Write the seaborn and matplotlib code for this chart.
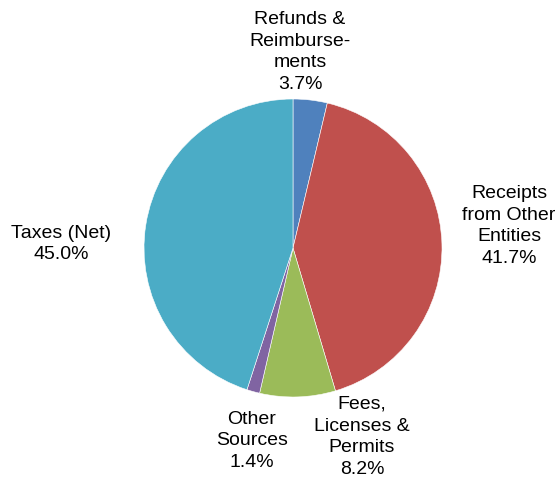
import matplotlib
matplotlib.use("Agg")
import matplotlib.pyplot as plt
import seaborn as sns

# Revenue sources, share of total (%)
categories = [
    "Refunds &\nReimburse-\nments",
    "Receipts\nfrom Other\nEntities",
    "Fees,\nLicenses &\nPermits",
    "Other\nSources",
    "Taxes (Net)",
]
shares = [3.7, 41.7, 8.2, 1.4, 45.0]
colors = ["#4F81BD", "#C0504D", "#9BBB59", "#8064A2", "#4BACC6"]

# label anchor points, in pie-radius units from the centre
label_xy = [(0.047, 1.315), (1.45, 0.148), (0.463, -1.268), (-0.275, -1.295), (-1.557, 0.027)]

sns.set_theme(style="white")
plt.rcParams["font.family"] = ["Liberation Sans", "DejaVu Sans"]

fig = plt.figure(figsize=(5.58, 4.8), dpi=100)
ax = fig.add_axes([0, 0, 1, 1])

ax.pie(
    shares,
    colors=colors,
    startangle=90,
    counterclock=False,
    radius=1.0,
    wedgeprops=dict(edgecolor="white", linewidth=0.4),
)

for name, val, (x, y) in zip(categories, shares, label_xy):
    ax.text(x, y, f"{name}\n{val:.1f}%", ha="center", va="center",
            fontsize=14, color="black", linespacing=1.36)

r_px = 149.0
cx, cy = 293.0, 480 - 248.0
ax.set_xlim(-cx / r_px, (558 - cx) / r_px)
ax.set_ylim(-cy / r_px, (480 - cy) / r_px)
ax.set_aspect("auto")
ax.axis("off")

fig.savefig("out.png", dpi=100, facecolor="white")
